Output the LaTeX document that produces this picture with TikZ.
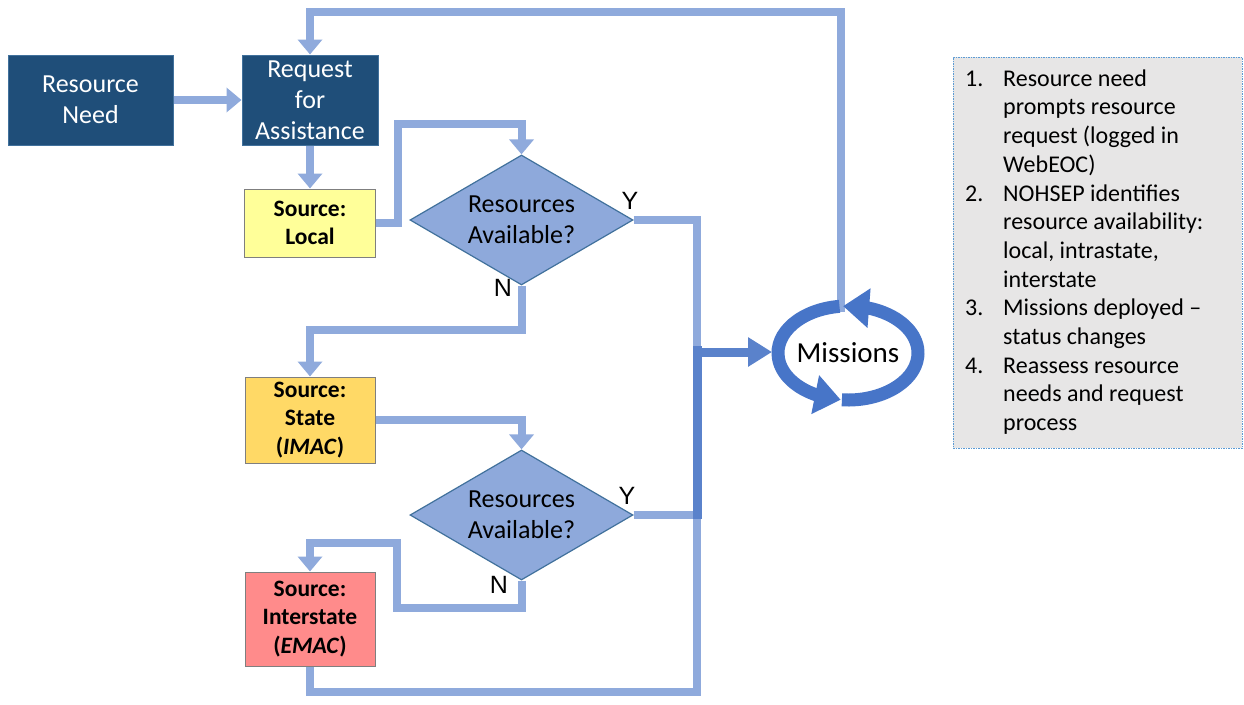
\documentclass[tikz,border=0pt]{standalone}
\usepackage{fontspec}
\setmainfont{Carlito}
\newfontfamily\arialfont{Liberation Sans}
\usetikzlibrary{arrows.meta,bending,shapes.geometric}
\definecolor{navyfill}{HTML}{1F4E79}
\definecolor{navyedge}{HTML}{41719C}
\definecolor{connblue}{HTML}{8FAADC}
\definecolor{conndark}{HTML}{5A82CB}
\definecolor{ringblue}{HTML}{4775C8}
\definecolor{dfill}{HTML}{8EA9DB}
\definecolor{dedge}{HTML}{41719C}
\definecolor{srcL}{HTML}{FFFF99}
\definecolor{srcS}{HTML}{FFD966}
\definecolor{srcI}{HTML}{FF8B8B}
\definecolor{srcedge}{HTML}{7F7F7F}
\definecolor{listbg}{HTML}{E7E6E6}
\definecolor{listbd}{HTML}{5B9BD5}
\tikzset{
  navybox/.style={draw=navyedge, line width=1pt, fill=navyfill, text=white, inner sep=0pt, align=center, font=\fontsize{26}{31}\selectfont},
  srcbox/.style={draw=srcedge, line width=1pt, inner sep=0pt, align=center, minimum width=130pt, font=\bfseries\fontsize{23.5}{28.5}\selectfont},
  decision/.style={diamond, aspect=1.72, draw=dedge, line width=1.2pt, fill=dfill, inner sep=0pt, minimum width=223pt, minimum height=130pt, align=center, font=\fontsize{26}{31}\selectfont},
  link/.style={draw=connblue, line width=8pt},
  linktip/.style={-{Triangle[length=15pt,width=24pt]}},
  dlink/.style={draw=conndark, line width=9pt},
  yn/.style={font=\arialfont\fontsize{25}{25}\selectfont, inner sep=0pt},
  band/.style={draw=ringblue, line width=13pt, -{Triangle[length=26pt,width=38pt]}},
}
\begin{document}
\begin{tikzpicture}[x=1pt,y=-1pt]
\fill[white] (0,0) rectangle (1244,704);
\useasboundingbox (0,0) rectangle (1244,704);

% boxes
\node[navybox, minimum width=165pt, minimum height=90pt] (rn) at (90.5,100) {Resource\\Need};
\node[navybox, minimum width=136pt, minimum height=90pt] (ra) at (310,100) {Request\\for\\Assistance};
\node[srcbox, fill=srcL, minimum width=131pt, minimum height=68pt] (loc) at (310,223) {Source:\\Local};
\node[srcbox, fill=srcS, minimum height=86pt] (st) at (310,420) {Source:\\State\\(\textit{IMAC})};
\node[srcbox, fill=srcI, minimum height=94pt] (is) at (310,619) {Source:\\Interstate\\(\textit{EMAC})};
\node[decision] (d1) at (521.5,220) {Resources\\Available?};
\node[decision] (d2) at (521.5,515) {Resources\\Available?};

% labels
\node[yn] (y1) at (630,201) {Y};
\node[yn] (n1) at (503,288) {N};
\node[yn] (y2) at (627,496) {Y};
\node[yn] (n2) at (499,585) {N};

% missions
\node[inner sep=0pt, font=\fontsize{29}{35}\selectfont] (mis) at (848,353) {Missions};
\coordinate (misTop) at (841,312);
\coordinate (misL) at (772,352);

% connectors
\draw[link, linktip] (rn.east) -- (ra.west);
\draw[link, linktip] (ra.south) -- (loc.north);
\draw[link, linktip] (misTop) -- (841,12) -| (ra.north);
\draw[link, linktip] (loc.east) -| (398,124) -| (d1.north);
\draw[link] (d1.east) -| (697,352);
\draw[link, linktip] (d1.south) -- (521.5,330) -| (st.north);
\draw[link, linktip] (st.east) -| (d2.north);
\draw[link] (d2.east) -- (701,515);
\draw[link, linktip] (d2.south) -- (521.5,608) -- (397,608) -- (397,543) -| (is.north);
\draw[link] (is.south) |- (697,692) -- (697,515);
\draw[dlink] (697,346) -- (697,519);
\draw[dlink, -{Triangle[length=24pt,width=28pt]}] (697,352) -- (misL);

% ring arrows
\draw[band] ([shift={(-95:70pt and 47pt)}]mis.center) arc[start angle=-95, end angle=94, x radius=70pt, y radius=47pt];
\draw[band] ([shift={(97:70pt and 47pt)}]mis.center) arc[start angle=97, end angle=264, x radius=70pt, y radius=47pt];

% list
\node[draw=listbd, line width=0.8pt, dash pattern=on 1.5pt off 1pt, fill=listbg, minimum width=289pt, minimum height=391pt, inner sep=0pt, anchor=north west] (lb) at (953,57) {};
\node[anchor=north west, inner sep=0pt, font=\fontsize{24}{28.7}\selectfont] (txt) at (965,66) {%
\begin{tabular}{@{}p{38pt}@{}l@{}}
1. & Resource need\\
 & prompts resource\\
 & request (logged in\\
 & WebEOC)\\
2. & NOHSEP identifies\\
 & resource availability:\\
 & local, intrastate,\\
 & interstate\\
3. & Missions deployed –\\
 & status changes\\
4. & Reassess resource\\
 & needs and request\\
 & process
\end{tabular}};
\end{tikzpicture}
\end{document}
